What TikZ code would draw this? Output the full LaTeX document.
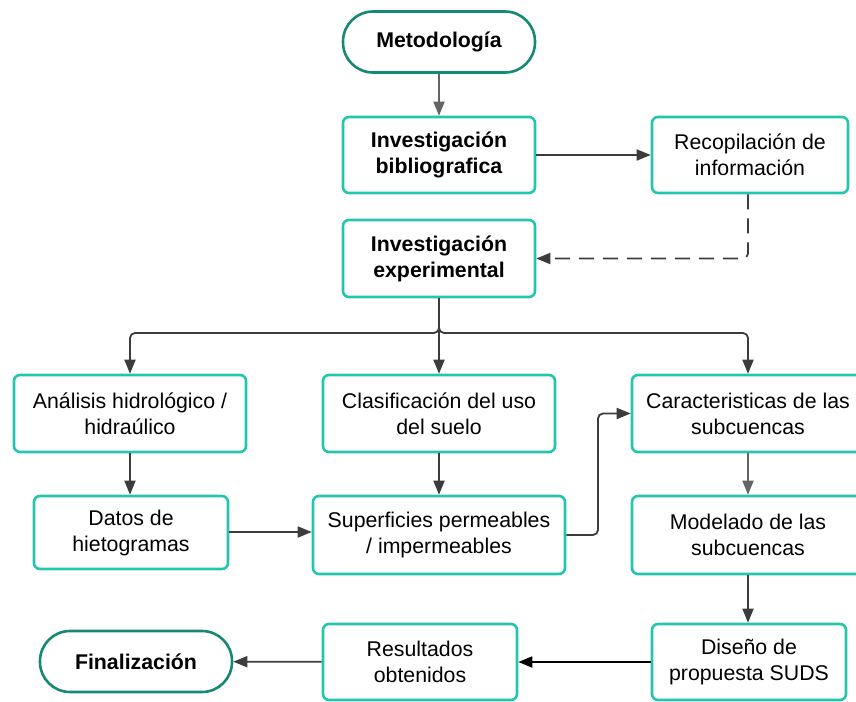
\documentclass[tikz,border=0pt]{standalone}
\usepackage{fontspec}
\setmainfont{Liberation Sans}
\usetikzlibrary{arrows.meta}
\definecolor{boxc}{RGB}{34,198,174}
\definecolor{termc}{RGB}{22,136,118}
\definecolor{arrc}{RGB}{60,60,60}
\definecolor{arrl}{RGB}{100,100,100}
\tikzset{
  box/.style={draw=boxc, line width=2.6pt, rounded corners=6pt, align=center,
    font=\fontsize{21.3}{26}\selectfont, inner sep=0pt},
  term/.style={draw=termc, line width=2.6pt, rounded corners=30pt, align=center,
    font=\fontsize{21.3}{26}\selectfont\bfseries, inner sep=0pt,
    minimum width=192pt, minimum height=61pt},
  conn/.style={draw=arrc, line width=1.8pt, rounded corners=5pt,
    -{Triangle[length=14pt,width=11pt]}},
  connl/.style={conn, draw=arrl, -{Triangle[length=14pt,width=11pt,fill=arrl]}},
}
\begin{document}
\begin{tikzpicture}[x=1pt,y=-1pt]
\useasboundingbox (0,0) rectangle (856,701);
\node[term] (met) at (439,42) {Metodología};
\node[box, font=\fontsize{21.3}{26}\selectfont\bfseries, minimum width=192pt, minimum height=76pt] (bib) at (439,155) {Investigación\\bibliografica};
\node[box, minimum width=196pt, minimum height=76pt] (rec) at (750,155) {Recopilación de\\información};
\node[box, font=\fontsize{21.3}{26}\selectfont\bfseries, minimum width=192pt, minimum height=77pt] (exp) at (439,258.5) {Investigación\\experimental};
\node[box, minimum width=232pt, minimum height=77pt] (ana) at (130,413.5) {Análisis hidrológico /\\hidraúlico};
\node[box, minimum width=232pt, minimum height=77pt] (cla) at (439,413.5) {Clasificación del uso\\del suelo};
\node[box, minimum width=232pt, minimum height=77pt] (car) at (748,413.5) {Caracteristicas de las\\subcuencas};
\node[box, minimum width=194pt, minimum height=73pt] (dat) at (131,532.5) {Datos de\\hietogramas};
\node[box, minimum width=252pt, minimum height=78pt] (sup) at (439,535) {Superficies permeables\\/ impermeables};
\node[box, minimum width=232pt, minimum height=78pt] (mod) at (748,535) {Modelado de las\\subcuencas};
\node[term] (fin) at (136,661.5) {Finalización};
\node[box, minimum width=194pt, minimum height=76pt] (res) at (420,662) {Resultados\\obtenidos};
\node[box, minimum width=194pt, minimum height=76pt] (dis) at (749,662) {Diseño de\\propuesta SUDS};
\coordinate (jn) at (439,333);
\draw[connl] (met) -- (bib);
\draw[conn] (bib) -- (rec);
\draw[conn, dash pattern=on 15pt off 9pt] (rec.south -| 748,0) |- (exp.east);
\draw[conn] (exp.south) |- (jn) -| (ana.north);
\draw[conn] (exp.south) -- (cla.north);
\draw[conn] (exp.south) |- (jn) -| (car.north);
\draw[conn] (ana.south) -- (ana.south |- dat.north);
\draw[conn] (cla) -- (sup);
\draw[connl] (car) -- (mod);
\draw[conn] (dat.east |- 0,532) -- (sup.west |- 0,532);
\draw[conn] (sup.east) -- (598,535) |- (car.west);
\draw[conn] (mod.south) -- (mod.south |- dis.north);
\draw[conn, draw=black, -{Triangle[length=14pt,width=11pt,fill=black]}] (dis) -- (res);
\draw[conn] (res) -- (fin);
\end{tikzpicture}
\end{document}
